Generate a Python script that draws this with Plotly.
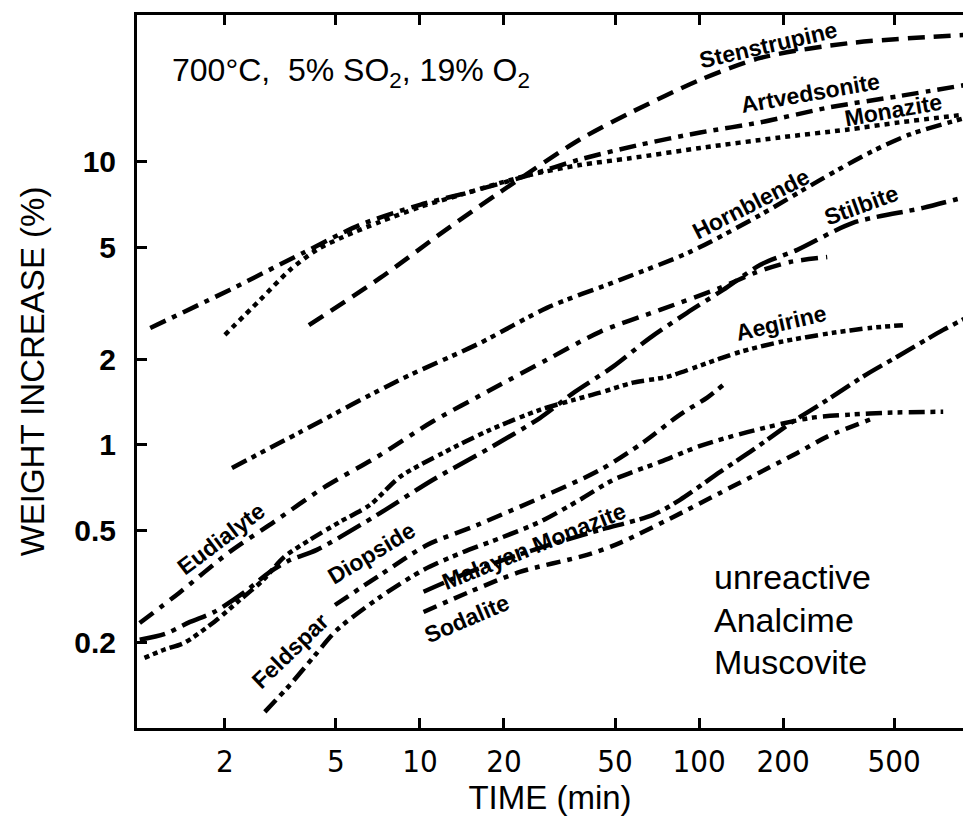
import math
import plotly.graph_objects as go

# ---- data: weight increase (%) versus time (min), 700 C, 5% SO2, 19% O2 ----
stenstrupine_t = [4.0, 7.2, 12.1, 19.4, 37.4, 56.6, 101, 166, 348, 900]
stenstrupine_w = [2.65, 3.89, 5.66, 7.83, 12.0, 14.9, 19.5, 23.3, 26.3, 28.1]

artvedsonite_t = [1.08, 2.08, 3.81, 6.1, 10, 15.1, 24.8, 37.4, 61.5, 101, 166, 295, 525, 900]
artvedsonite_w = [2.59, 3.53, 4.77, 5.99, 7.05, 7.83, 9.0, 10.2, 11.5, 12.7, 13.8, 15.6, 17.1, 18.7]

monazite_t = [2.0, 2.67, 3.42, 4.27, 5.3, 7.19, 10, 13.9, 19.4, 24.8, 37.4, 56.6, 101, 195, 339, 525, 900]
monazite_w = [2.45, 3.25, 4.15, 4.89, 5.43, 6.14, 6.93, 7.64, 8.43, 9.0, 9.75, 10.3, 11.2, 12.2, 13.0, 13.8, 14.7]

hornblende_t = [2.12, 3.72, 8.48, 16.4, 28.5, 52.1, 92.9, 166, 272, 410, 570, 900]
hornblende_w = [0.829, 1.11, 1.70, 2.29, 3.05, 3.83, 4.81, 6.50, 8.64, 10.8, 12.5, 14.3]

eudialyte_t = [0.99, 1.37, 2.08, 3.0, 4.56, 7.01, 11.1, 17.8, 28.5, 44.2, 72.5, 119, 161, 212, 288]
eudialyte_w = [0.235, 0.300, 0.419, 0.535, 0.711, 0.907, 1.21, 1.56, 2.00, 2.51, 3.00, 3.59, 4.08, 4.43, 4.61]

stilbite_t = [0.99, 1.22, 1.5, 1.83, 2.36, 2.9, 3.42, 4.27, 6.84, 11.1, 17.8, 26.9, 35.9, 49.2, 66.7,
              90.6, 122, 166, 225, 356, 635, 900]
stilbite_w = [0.205, 0.215, 0.237, 0.257, 0.303, 0.356, 0.392, 0.426, 0.557, 0.752, 0.976, 1.245, 1.54,
              1.89, 2.39, 2.93, 3.53, 4.33, 4.89, 6.09, 6.88, 7.52]

aegirine_t = [1.03, 1.21, 1.43, 1.83, 2.26, 2.74, 3.26, 4.03, 5.17, 6.62, 8.48, 12.1, 17.8, 26.9, 35.3,
              44.2, 58.0, 76.8, 98.4, 140, 195, 302, 410, 538]
aegirine_w = [0.177, 0.189, 0.200, 0.237, 0.283, 0.333, 0.402, 0.462, 0.535, 0.614, 0.771, 0.937, 1.13,
              1.33, 1.44, 1.53, 1.66, 1.74, 1.89, 2.13, 2.31, 2.49, 2.59, 2.65]

diopside_t = [4.96, 7.19, 10.6, 16.0, 27.4, 44.2, 63.0, 85.5, 107, 122]
diopside_w = [0.272, 0.347, 0.443, 0.521, 0.655, 0.816, 1.02, 1.28, 1.47, 1.63]

feldspar_t = [2.78, 3.42, 4.21, 5.04, 7.19, 10.3, 14.0, 19.4, 26.9, 37.4, 49.2, 72.5, 101, 149, 250,
              348, 472, 750]
feldspar_w = [0.114, 0.142, 0.181, 0.222, 0.290, 0.362, 0.415, 0.469, 0.535, 0.640, 0.752, 0.871, 0.992,
              1.11, 1.245, 1.28, 1.30, 1.31]

malayan_t = [10.3, 15.1, 26.9, 44.2, 68.4, 85.5, 119, 156, 217, 278, 400, 513, 750, 900]
malayan_w = [0.303, 0.356, 0.433, 0.501, 0.566, 0.640, 0.803, 0.960, 1.21, 1.41, 1.78, 2.05, 2.55, 2.80]

sodalite_t = [10.3, 15.1, 22.8, 39.7, 52.1, 90.6, 119, 156, 225, 288, 410]
sodalite_w = [0.257, 0.303, 0.356, 0.409, 0.451, 0.589, 0.677, 0.777, 0.937, 1.07, 1.23]

x_tickvals = [2, 5, 10, 20, 50, 100, 200, 500]
x_ticktext = ["2", "5", "10", "20", "50", "100", "200", "500"]
y_tickvals = [0.2, 0.5, 1, 2, 5, 10]
y_ticktext = ["0.2", "0.5", "1", "2", "5", "10"]

# curve label: text, time, weight, angle
curve_labels = [
    ("Stenstrupine", 180, 23.9, -13),
    ("Artvedsonite", 254, 16.2, -10),
    ("Monazite", 504, 14.1, -10),
    ("Hornblende", 159, 6.61, -27),
    ("Stilbite", 394, 6.50, -20),
    ("Aegirine", 200, 2.49, -13),
    ("Eudialyte", 2.03, 0.436, -37),
    ("Diopside", 7.01, 0.386, -31),
    ("Feldspar", 3.62, 0.177, -44),
    ("Malayan Monazite", 26.5, 0.409, -22),
    ("Sodalite", 15.1, 0.226, -23),
]

# ---- line styles ----
series = [
    (stenstrupine_t, stenstrupine_w, "17px,9px"),
    (artvedsonite_t, artvedsonite_w, "17px,7px,5px,7px"),
    (monazite_t, monazite_w, "5px,5px"),
    (hornblende_t, hornblende_w, "16px,6px,5px,5px,5px,6px"),
    (eudialyte_t, eudialyte_w, "17px,8px,5px,8px"),
    (stilbite_t, stilbite_w, "26px,7px,5px,7px"),
    (aegirine_t, aegirine_w, "5px,4px,5px,4px,5px,4px,13px,5px"),
    (diopside_t, diopside_w, "16px,7px,5px,7px"),
    (feldspar_t, feldspar_w, "16px,6px,5px,5px,5px,6px"),
    (malayan_t, malayan_w, "22px,6px,5px,5px"),
    (sodalite_t, sodalite_w, "14px,7px,5px,7px"),
]

fig = go.Figure()
for t, w, dash in series:
    fig.add_trace(go.Scatter(
        x=t, y=w, mode="lines",
        line=dict(color="black", width=4.5, dash=dash, shape="spline", smoothing=0.8),
        showlegend=False, hoverinfo="skip",
    ))

X_RANGE = [-0.014, 2.946]
Y_RANGE = [-1.0, 1.519]
TXT = "Liberation Sans, Arial, sans-serif"
NARROW = "Liberation Sans Narrow, DejaVu Sans Condensed, Arial Narrow, Liberation Sans, sans-serif"

common = dict(type="log", showgrid=False, zeroline=False, ticks="inside",
              tickcolor="black", tickwidth=2.5)

fig.update_layout(
    width=963, height=820,
    margin=dict(l=137, r=0, t=15, b=92),
    paper_bgcolor="white", plot_bgcolor="white",
    xaxis=dict(**common, range=X_RANGE, tickvals=x_tickvals, ticktext=x_ticktext, ticklen=10,
               showline=True, linewidth=3, linecolor="black", mirror="ticks",
               tickfont=dict(family=NARROW, size=31, color="black"), ticklabelstandoff=4,
               title=dict(text="TIME (min)", font=dict(family=TXT, size=33, color="black"), standoff=4)),
    xaxis2=dict(**common, range=X_RANGE, overlaying="x", anchor="y", tickvals=[5, 50, 500], ticklen=15,
                showticklabels=False, showline=True, linewidth=3, linecolor="black", mirror="ticks"),
    xaxis3=dict(**common, range=X_RANGE, overlaying="x", anchor="y", tickvals=[10, 100], ticklen=23,
                showticklabels=False, showline=True, linewidth=3, linecolor="black", mirror="ticks"),
    yaxis=dict(**common, range=Y_RANGE, tickvals=y_tickvals, ticktext=y_ticktext, ticklen=10,
               showline=True, linewidth=3, linecolor="black",
               tickfont=dict(family=TXT, size=30, color="black", weight="bold"), ticklabelstandoff=12,
               title=dict(text="WEIGHT INCREASE (%)", font=dict(family=TXT, size=33, color="black"),
                          standoff=20)),
    yaxis2=dict(**common, range=Y_RANGE, overlaying="y", anchor="x", side="left", tickvals=[0.5, 5],
                ticklen=17, showticklabels=False),
    yaxis3=dict(**common, range=Y_RANGE, overlaying="y", anchor="x", side="left", tickvals=[1, 10],
                ticklen=25, showticklabels=False),
    yaxis4=dict(**common, range=Y_RANGE, overlaying="y", anchor="x", side="right", tickvals=[0.5, 5],
                ticklen=6, showticklabels=False),
    yaxis5=dict(**common, range=Y_RANGE, overlaying="y", anchor="x", side="right", tickvals=[1, 10],
                ticklen=13, showticklabels=False),
)

# labels sit on their curves, lifted so the curve runs beneath like an underline
LIFT = 10
for text, t, w, ang in curve_labels:
    a = math.radians(ang)
    fig.add_annotation(x=math.log10(t), y=math.log10(w), xref="x", yref="y", text=text,
                       textangle=ang, showarrow=False,
                       xshift=LIFT * math.sin(a), yshift=LIFT * math.cos(a),
                       font=dict(family=TXT, size=23, color="black", weight="bold"))

fig.add_annotation(x=0.04, y=0.919, xref="paper", yref="paper", xanchor="left", yanchor="middle",
                   text="700°C,  5% SO<sub>2</sub>, 19% O<sub>2</sub>", showarrow=False,
                   font=dict(family=TXT, size=32, color="black"))

for txt, yp in [("unreactive", 0.212), ("Analcime", 0.151), ("Muscovite", 0.093)]:
    fig.add_annotation(x=0.696, y=yp, xref="paper", yref="paper", xanchor="left", yanchor="middle",
                       text=txt, showarrow=False, font=dict(family=TXT, size=34, color="black"))

fig.write_html("out.html")
